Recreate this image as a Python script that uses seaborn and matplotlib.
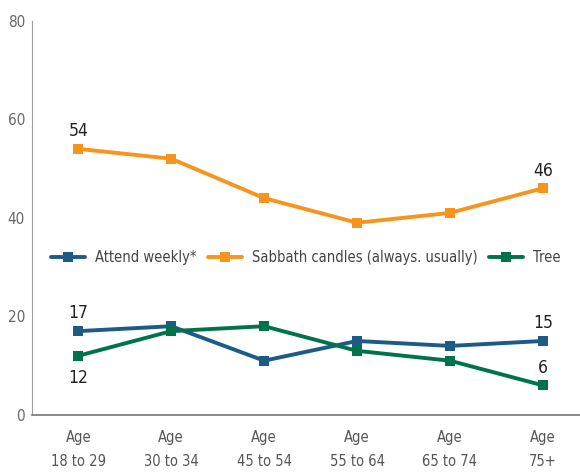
import pandas as pd
import matplotlib.pyplot as plt
import seaborn as sns

ages = ["Age\n18 to 29", "Age\n30 to 34", "Age\n45 to 54", "Age\n55 to 64", "Age\n65 to 74", "Age\n75+"]
attend_weekly = [17, 18, 11, 15, 14, 15]
sabbath_candles = [54, 52, 44, 39, 41, 46]
tree = [12, 17, 18, 13, 11, 6]
series_names = ["Attend weekly*", "Sabbath candles (always. usually)", "Tree"]
colors = ["#1b5b86", "#f7941d", "#00734a"]

sns.set_style("white")
plt.rcParams['font.family'] = ['DejaVu Sans']
plt.rcParams['font.stretch'] = 'condensed'

rows = []
for name, vals in zip(series_names, [attend_weekly, sabbath_candles, tree]):
    for a, v in zip(ages, vals):
        rows.append({"age": a, "value": v, "series": name})
df = pd.DataFrame(rows)

fig = plt.figure(figsize=(5.8, 4.72), dpi=100)
ax = fig.add_axes([0.055, 0.121, 0.945, 0.835])
sns.lineplot(data=df, x="age", y="value", hue="series", palette=colors,
             marker="s", markersize=7, markeredgewidth=0, linewidth=2.8,
             sort=False, ax=ax)

ax.set_ylim(0, 80)
ax.set_xlim(-0.5, 5.4)
ax.set_yticks([0, 20, 40, 60, 80])
ax.set_xlabel("")
ax.set_ylabel("")
for s in ["top", "right"]:
    ax.spines[s].set_visible(False)
ax.spines["left"].set_color("#a0a0a0")
ax.spines["bottom"].set_color("#808080")
ax.spines["bottom"].set_linewidth(1.3)
ax.tick_params(axis="y", length=4, color="#a0a0a0", labelsize=11, labelcolor="#666666", pad=1)
ax.tick_params(axis="x", length=0, labelsize=10.5, labelcolor="#555555", pad=11)
for lbl in ax.get_xticklabels():
    lbl.set_linespacing(1.7)

# value labels
labels = [(0, sabbath_candles[0], 3.6), (5, sabbath_candles[5], 3.6),
          (0, attend_weekly[0], 3.6), (0, tree[0], -4.6),
          (5, attend_weekly[5], 3.6), (5, tree[5], 3.5)]
for i, v, off in labels:
    ax.text(i, v + off, str(v), ha="center", va="center", fontsize=12.5, color="#222222")

ax.legend(loc="center", bbox_to_anchor=(0.5, 0.40), ncol=3, frameon=False,
          fontsize=10.5, handlelength=2.3, handletextpad=0.7, columnspacing=0.8,
          labelcolor="#444444")

fig.savefig("out.png", dpi=100)
